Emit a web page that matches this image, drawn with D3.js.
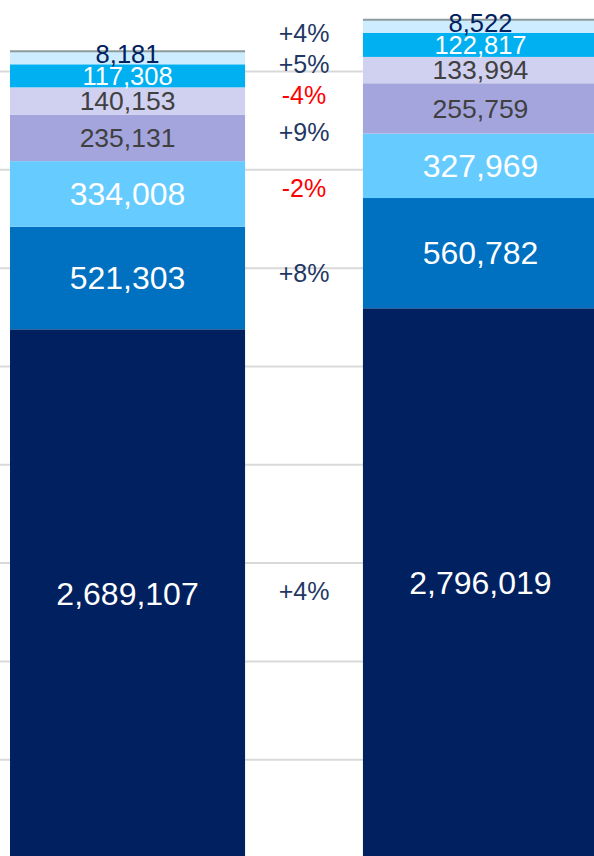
<!DOCTYPE html>
<html>
<head>
<meta charset="utf-8">
<script src="https://cdn.jsdelivr.net/npm/d3@7"></script>
<style>
	body { margin: 0; background: #fff; }
	svg { display: block; font-family: "Liberation Sans", Arial, sans-serif; }
</style>
</head>
<body>
<div id="viz"></div>
<script>
// two stacked bars, series listed bottom -> top
const bars = ['left', 'right'];
const seriesA = [2689107, 2796019];
const seriesB = [521303, 560782];
const seriesC = [334008, 327969];
const seriesD = [235131, 255759];
const seriesE = [140153, 133994];
const seriesF = [117308, 122817];
const seriesG = [8181, 8522];
const gridTicks = [500000, 1000000, 1500000, 2000000, 2500000, 3000000, 3500000, 4000000];

const allSeries = [seriesA, seriesB, seriesC, seriesD, seriesE, seriesF, seriesG];

const fills = ['#002060', '#0070c0', '#66ccff', '#a5a5de', '#d0d0f0', '#00b0f0', '#cdecff'];
const labelColors = ['#fff', '#fff', '#fff', '#404040', '#404040', '#fff', '#002060'];
const labelSizes = [32, 32, 32, 26.5, 26.5, 25.5, 25.5];

const width = 594, height = 856;
const minSeg = 13; // thin segments are drawn with a minimum height

let svg = d3.select('#viz').append('svg')
	.attr('width', width)
	.attr('height', height);

let x = d3.scaleBand()
	.domain(bars)
	.range([10, 598])
	.paddingInner(0.334)
	.paddingOuter(0);

let y = d3.scaleLinear()
	.domain([0, 4364000])
	.range([858, 0]);

// gridlines
svg.append('g')
	.selectAll('line')
	.data(gridTicks)
	.join('line')
	.attr('x1', 0)
	.attr('x2', width)
	.attr('y1', d => y(d))
	.attr('y2', d => y(d))
	.attr('stroke', '#d9d9d9')
	.attr('stroke-width', 2);

// build segments
let segs = [];
bars.forEach((b, bi) => {
	let top = y(0);
	allSeries.forEach((s, si) => {
		let h = Math.max(y(0) - y(s[bi]), minSeg);
		let y0 = top - h;
		segs.push({ bar: b, bi, si, value: s[bi], y0, y1: top });
		top = y0;
	});
});

svg.append('g')
	.selectAll('rect')
	.data(segs)
	.join('rect')
	.attr('x', d => x(d.bar))
	.attr('width', x.bandwidth())
	.attr('y', d => d.y0)
	.attr('height', d => d.y1 - d.y0)
	.attr('fill', d => fills[d.si]);

// thin grey edge on top of each bar
let tops = segs.filter(d => d.si === allSeries.length - 1);
svg.append('g')
	.selectAll('line')
	.data(tops)
	.join('line')
	.attr('x1', d => x(d.bar))
	.attr('x2', d => x(d.bar) + x.bandwidth())
	.attr('y1', d => d.y0)
	.attr('y2', d => d.y0)
	.attr('stroke', '#8c9c9c')
	.attr('stroke-width', 2);

let fmt = d3.format(',');

svg.append('g')
	.selectAll('text')
	.data(segs)
	.join('text')
	.attr('x', d => x(d.bar) + x.bandwidth() / 2)
	.attr('y', d => d.y1 - d.y0 <= minSeg ? d.y1 - 1 : (d.y0 + d.y1) / 2)
	.attr('dy', d => d.y1 - d.y0 <= minSeg ? 0 : '0.35em')
	.attr('text-anchor', 'middle')
	.attr('fill', d => labelColors[d.si])
	.attr('font-size', d => labelSizes[d.si])
	.text(d => fmt(d.value));

// percentage change labels in the gap
let pctFmt = d3.format('+.0%');
let gapX = (x(bars[0]) + x.bandwidth() + x(bars[1])) / 2;

let pct = allSeries.map((s, si) => {
	let a = segs.find(d => d.bi === 0 && d.si === si);
	let b = segs.find(d => d.bi === 1 && d.si === si);
	let mid = 0.8 * (a.y0 + a.y1) / 2 + 0.2 * (b.y0 + b.y1) / 2;
	let change = s[1] / s[0] - 1;
	return { si, y: mid, change };
});

// keep the labels from overlapping, working up from the bottom
for (let i = 1; i < pct.length; i++) {
	if (pct[i - 1].y - pct[i].y < 31) pct[i].y = pct[i - 1].y - 31;
}

svg.append('g')
	.selectAll('text')
	.data(pct)
	.join('text')
	.attr('x', gapX)
	.attr('y', d => d.y)
	.attr('dy', '0.35em')
	.attr('text-anchor', 'middle')
	.attr('font-size', 25)
	.attr('fill', d => d.change < 0 ? '#ff0000' : '#1f3864')
	.text(d => pctFmt(d.change).replace('\u2212', '-'));
</script>
</body>
</html>
